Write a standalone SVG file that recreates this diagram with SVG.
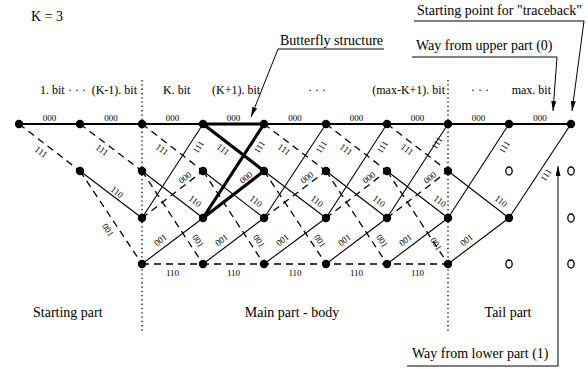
<svg xmlns="http://www.w3.org/2000/svg" width="588" height="369" viewBox="0 0 588 369">
  <defs>
    <marker id="ah" viewBox="0 0 10 5" refX="10" refY="2.5" markerWidth="10" markerHeight="5" markerUnits="userSpaceOnUse" orient="auto">
      <path d="M0,0 L10,2.5 L0,5 z" fill="#000"/>
    </marker>
    <style>
      .bg { fill: #fff; }
      .sol { stroke: #000; stroke-width: 1.1; fill: none; }
      .top { stroke: #000; stroke-width: 1.8; fill: none; }
      .das { stroke: #000; stroke-width: 1.3; fill: none; stroke-dasharray: 7 5; }
      .bold { stroke: #000; stroke-width: 3.2; fill: none; stroke-linecap: round; }
      .dot { stroke: #000; stroke-width: 1.3; fill: none; stroke-dasharray: 1.3 3; }
      .lead { stroke: #000; stroke-width: 1; fill: none; }
      .arr { stroke: #000; stroke-width: 1; fill: none; marker-end: url(#ah); }
      .st { fill: #000; }
      .emp { fill: #fff; stroke: #000; stroke-width: 1.3; }
      .el { font-family: "Liberation Serif", "Times New Roman", serif; font-size: 9px; text-anchor: middle; dominant-baseline: central; fill: #000; }
      .bit { font-family: "Liberation Serif", "Times New Roman", serif; font-size: 12px; fill: #000; }
      .ann { font-family: "Liberation Serif", "Times New Roman", serif; font-size: 14px; fill: #000; }
    </style>
  </defs>
  <rect class="bg" x="0" y="0" width="588" height="369"/>

  <!-- section separators -->
  <g id="separators">
    <line class="dot" x1="142" y1="80" x2="142" y2="332"/>
    <line class="dot" x1="448" y1="80" x2="448" y2="332"/>
  </g>

  <!-- trellis transitions: solid = input 0, dashed = input 1 -->
  <g id="connectors">
    <path class="top" d="M19 124 H571"/>
    <!-- state 01 -> 10 (110) -->
    <path class="sol" d="M80 171 L142 218 M142 171 L203 218 M203 171 L264 218 M264 171 L326 218 M326 171 L387 218 M387 171 L448 218 M448 171 L509 218"/>
    <!-- state 10 -> 00 (111) -->
    <path class="sol" d="M142 218 L203 124 M264 218 L326 124 M326 218 L387 124 M387 218 L448 124 M448 218 L509 124 M509 218 L571 124"/>
    <!-- state 11 -> 10 (001) -->
    <path class="sol" d="M142 264 L203 218 M203 264 L264 218 M264 264 L326 218 M326 264 L387 218 M387 264 L448 218 M448 264 L509 218"/>
    <!-- state 00 -> 01 (111) -->
    <path class="das" d="M19 124 L80 171 M80 124 L142 171 M142 124 L203 171 M264 124 L326 171 M326 124 L387 171 M387 124 L448 171"/>
    <!-- state 01 -> 11 (001) -->
    <path class="das" d="M80 171 L142 264 M142 171 L203 264 M203 171 L264 264 M264 171 L326 264 M326 171 L387 264 M387 171 L448 264"/>
    <!-- state 10 -> 01 (000) -->
    <path class="das" d="M142 218 L203 171 M264 218 L326 171 M326 218 L387 171 M387 218 L448 171"/>
    <!-- state 11 -> 11 (110) -->
    <path class="das" d="M142 264 H448"/>
    <!-- butterfly -->
    <path class="bold" d="M203 124 L264 124 M203 124 L264 171 M203 218 L264 124 M203 218 L264 171"/>
  </g>

  <!-- branch outputs -->
  <g id="branch-labels">
    <text class="el" x="49.5" y="118">000</text>
    <text class="el" x="111" y="118">000</text>
    <text class="el" x="172.5" y="118">000</text>
    <text class="el" x="233.5" y="118">000</text>
    <text class="el" x="295" y="118">000</text>
    <text class="el" x="356.5" y="118">000</text>
    <text class="el" x="417.5" y="118">000</text>
    <text class="el" x="478.5" y="118">000</text>
    <text class="el" x="540" y="118">000</text>

    <text class="el" transform="translate(41 152) rotate(37.5)">111</text>
    <text class="el" transform="translate(102 150) rotate(37.5)">111</text>
    <text class="el" transform="translate(162 149.5) rotate(37.5)">111</text>
    <text class="el" transform="translate(223 149.5) rotate(37.5)">111</text>
    <text class="el" transform="translate(284 149.5) rotate(37.5)">111</text>
    <text class="el" transform="translate(346 149.5) rotate(37.5)">111</text>
    <text class="el" transform="translate(407 149.5) rotate(37.5)">111</text>

    <text class="el" transform="translate(198.5 147) rotate(-57)">111</text>
    <text class="el" transform="translate(259.5 147) rotate(-57)">111</text>
    <text class="el" transform="translate(321.5 147) rotate(-57)">111</text>
    <text class="el" transform="translate(382.5 147) rotate(-57)">111</text>
    <text class="el" transform="translate(437 143) rotate(-57)">111</text>
    <text class="el" transform="translate(504.5 147) rotate(-57)">111</text>
    <text class="el" transform="translate(546 175) rotate(-57)">111</text>

    <text class="el" transform="translate(185 177.5) rotate(-37.5)">000</text>
    <text class="el" transform="translate(246 177.5) rotate(-37.5)">000</text>
    <text class="el" transform="translate(307 177.5) rotate(-37.5)">000</text>
    <text class="el" transform="translate(369 177.5) rotate(-37.5)">000</text>
    <text class="el" transform="translate(430 177.5) rotate(-37.5)">000</text>

    <text class="el" transform="translate(117 192) rotate(37.5)">110</text>
    <text class="el" transform="translate(195 201) rotate(37.5)">110</text>
    <text class="el" transform="translate(256 201) rotate(37.5)">110</text>
    <text class="el" transform="translate(317 201) rotate(37.5)">110</text>
    <text class="el" transform="translate(379 201) rotate(37.5)">110</text>
    <text class="el" transform="translate(440 201) rotate(37.5)">110</text>
    <text class="el" transform="translate(501 201) rotate(37.5)">110</text>

    <text class="el" transform="translate(160.5 240) rotate(-37)">001</text>
    <text class="el" transform="translate(221.5 240) rotate(-37)">001</text>
    <text class="el" transform="translate(282.5 240) rotate(-37)">001</text>
    <text class="el" transform="translate(344.5 240) rotate(-37)">001</text>
    <text class="el" transform="translate(405.5 240) rotate(-37)">001</text>
    <text class="el" transform="translate(466.5 240) rotate(-37)">001</text>

    <text class="el" transform="translate(108 230) rotate(57)">001</text>
    <text class="el" transform="translate(198 241) rotate(57)">001</text>
    <text class="el" transform="translate(259 241) rotate(57)">001</text>
    <text class="el" transform="translate(320 241) rotate(57)">001</text>
    <text class="el" transform="translate(382 241) rotate(57)">001</text>
    <text class="el" transform="translate(436 244) rotate(57)">001</text>

    <text class="el" x="172.5" y="272.5">110</text>
    <text class="el" x="233.5" y="272.5">110</text>
    <text class="el" x="295" y="272.5">110</text>
    <text class="el" x="356.5" y="272.5">110</text>
    <text class="el" x="417.5" y="272.5">110</text>
  </g>

  <!-- states -->
  <g id="n0_0"><circle class="st" cx="19" cy="124" r="4.2"/></g>
  <g id="n1_0"><circle class="st" cx="80" cy="124" r="4.2"/></g>
  <g id="n1_1"><circle class="st" cx="80" cy="171" r="4.2"/></g>
  <g id="n2_0"><circle class="st" cx="142" cy="124" r="4.2"/></g>
  <g id="n2_1"><circle class="st" cx="142" cy="171" r="4.2"/></g>
  <g id="n2_2"><circle class="st" cx="142" cy="218" r="4.2"/></g>
  <g id="n2_3"><circle class="st" cx="142" cy="264" r="4.2"/></g>
  <g id="n3_0"><circle class="st" cx="203" cy="124" r="4.2"/></g>
  <g id="n3_1"><circle class="st" cx="203" cy="171" r="4.2"/></g>
  <g id="n3_2"><circle class="st" cx="203" cy="218" r="4.2"/></g>
  <g id="n3_3"><circle class="st" cx="203" cy="264" r="4.2"/></g>
  <g id="n4_0"><circle class="st" cx="264" cy="124" r="4.2"/></g>
  <g id="n4_1"><circle class="st" cx="264" cy="171" r="4.2"/></g>
  <g id="n4_2"><circle class="st" cx="264" cy="218" r="4.2"/></g>
  <g id="n4_3"><circle class="st" cx="264" cy="264" r="4.2"/></g>
  <g id="n5_0"><circle class="st" cx="326" cy="124" r="4.2"/></g>
  <g id="n5_1"><circle class="st" cx="326" cy="171" r="4.2"/></g>
  <g id="n5_2"><circle class="st" cx="326" cy="218" r="4.2"/></g>
  <g id="n5_3"><circle class="st" cx="326" cy="264" r="4.2"/></g>
  <g id="n6_0"><circle class="st" cx="387" cy="124" r="4.2"/></g>
  <g id="n6_1"><circle class="st" cx="387" cy="171" r="4.2"/></g>
  <g id="n6_2"><circle class="st" cx="387" cy="218" r="4.2"/></g>
  <g id="n6_3"><circle class="st" cx="387" cy="264" r="4.2"/></g>
  <g id="n7_0"><circle class="st" cx="448" cy="124" r="4.2"/></g>
  <g id="n7_1"><circle class="st" cx="448" cy="171" r="4.2"/></g>
  <g id="n7_2"><circle class="st" cx="448" cy="218" r="4.2"/></g>
  <g id="n7_3"><circle class="st" cx="448" cy="264" r="4.2"/></g>
  <g id="n8_0"><circle class="st" cx="509" cy="124" r="4.2"/></g>
  <g id="n8_1"><ellipse class="emp" cx="509" cy="171" rx="3.2" ry="4"/></g>
  <g id="n8_2"><circle class="st" cx="509" cy="218" r="4.2"/></g>
  <g id="n8_3"><ellipse class="emp" cx="509" cy="264" rx="3.2" ry="4"/></g>
  <g id="n9_0"><circle class="st" cx="571" cy="124" r="4.2"/></g>
  <g id="n9_1"><ellipse class="emp" cx="571" cy="171" rx="3.2" ry="4"/></g>
  <g id="n9_2"><ellipse class="emp" cx="571" cy="218" rx="3.2" ry="4"/></g>
  <g id="n9_3"><ellipse class="emp" cx="571" cy="264" rx="3.2" ry="4"/></g>

  <!-- stage headings -->
  <g id="stages">
    <text class="ann" x="31" y="21">K = 3</text>
    <text class="bit" x="40" y="94">1. bit</text>
    <text class="bit" x="77" y="94" text-anchor="middle">· · ·</text>
    <text class="bit" x="137" y="94" text-anchor="end">(K-1). bit</text>
    <text class="bit" x="163" y="94">K. bit</text>
    <text class="bit" x="212" y="94">(K+1). bit</text>
    <text class="bit" x="317" y="94" text-anchor="middle">· · ·</text>
    <text class="bit" x="445" y="94" text-anchor="end">(max-K+1). bit</text>
    <text class="bit" x="480" y="94" text-anchor="middle">· · ·</text>
    <text class="bit" x="551" y="94" text-anchor="end">max. bit</text>
  </g>

  <!-- part names -->
  <g id="parts">
    <text class="ann" x="33" y="317">Starting part</text>
    <text class="ann" x="292" y="317" text-anchor="middle">Main part - body</text>
    <text class="ann" x="508" y="317" text-anchor="middle">Tail part</text>
  </g>

  <!-- callouts -->
  <g id="callout-butterfly">
    <text class="ann" x="280" y="45">Butterfly structure</text>
    <path class="lead" d="M384 49 H278"/>
    <path class="arr" d="M278 49 L251 117"/>
  </g>
  <g id="callout-traceback">
    <text class="ann" x="417" y="15">Starting point for "traceback"</text>
    <path class="lead" d="M414 21 H584"/>
    <path class="arr" d="M584 21 L572 111"/>
  </g>
  <g id="callout-upper">
    <text class="ann" x="416" y="50">Way from upper part (0)</text>
    <path class="lead" d="M412 57 H557"/>
    <path class="arr" d="M557 57 L553 111"/>
  </g>
  <g id="callout-lower">
    <text class="ann" x="412" y="358">Way from lower part (1)</text>
    <path class="lead" d="M407 366 H558"/>
    <path class="arr" d="M558 366 V166"/>
  </g>
</svg>
